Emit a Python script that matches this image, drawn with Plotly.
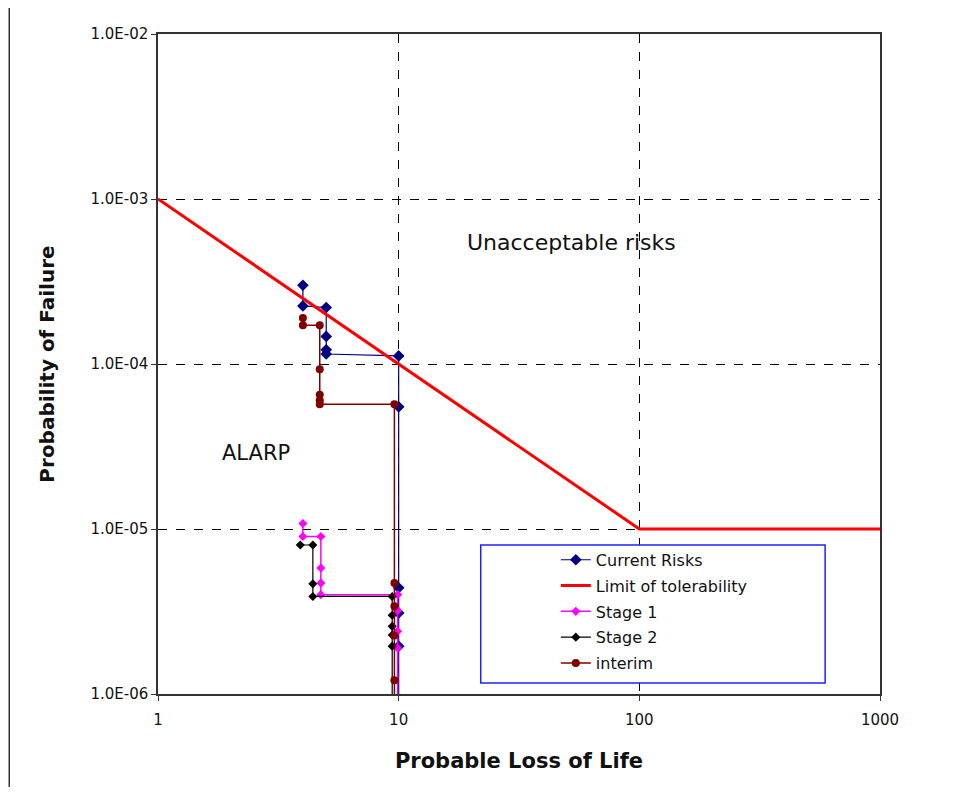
import plotly.graph_objects as go

# ---- data ----
current_x = [4, 4, 5, 5, 5, 5, 10, 10, 10, 10, 10, 10]
current_y = [3.0e-4, 2.25e-4, 2.2e-4, 1.47e-4, 1.22e-4, 1.15e-4, 1.12e-4, 5.5e-5, 4.4e-6, 3.1e-6, 1.95e-6, 5e-7]

limit_x = [1, 100, 1000]
limit_y = [1e-3, 1e-5, 1e-5]

stage1_x = [4, 4, 4.75, 4.75, 4.75, 4.75, 9.9, 9.9, 9.9, 9.9, 9.9]
stage1_y = [1.08e-5, 9.0e-6, 9.0e-6, 5.8e-6, 4.7e-6, 4.0e-6, 4.0e-6, 3.2e-6, 2.4e-6, 1.9e-6, 5e-7]

stage2_x = [3.9, 4.4, 4.4, 4.4, 9.4, 9.4, 9.4, 9.4, 9.4, 9.4]
stage2_y = [8.0e-6, 8.0e-6, 4.65e-6, 3.9e-6, 3.9e-6, 3.0e-6, 2.57e-6, 2.28e-6, 1.95e-6, 5e-7]

interim_x = [4, 4, 4.7, 4.7, 4.7, 4.7, 4.7, 9.6, 9.6, 9.6, 9.6, 9.6, 9.6]
interim_y = [1.9e-4, 1.72e-4, 1.72e-4, 9.3e-5, 6.5e-5, 6.0e-5, 5.7e-5, 5.7e-5, 4.7e-6, 3.4e-6, 2.26e-6, 1.21e-6, 5e-7]

x_tickvals = [1, 10, 100, 1000]
x_ticktext = ["1", "10", "100", "1000"]
y_tickvals = [1e-6, 1e-5, 1e-4, 1e-3, 1e-2]
y_ticktext = ["1.0E-06", "1.0E-05", "1.0E-04", "1.0E-03", "1.0E-02"]

FONT = "DejaVu Sans"

fig = go.Figure()
fig.add_trace(go.Scatter(x=current_x, y=current_y, name="Current Risks", legendgroup="a",
                         mode="lines+markers", line=dict(color="#000080", width=1.2),
                         marker=dict(symbol="diamond", size=9, color="#000080")))
fig.add_trace(go.Scatter(x=limit_x, y=limit_y, name="Limit of tolerability", legendgroup="b",
                         mode="lines", line=dict(color="#FF0000", width=3)))
fig.add_trace(go.Scatter(x=stage1_x, y=stage1_y, name="Stage 1", legendgroup="c",
                         mode="lines+markers", line=dict(color="#FF00FF", width=1.5),
                         marker=dict(symbol="diamond", size=7, color="#FF00FF")))
fig.add_trace(go.Scatter(x=stage2_x, y=stage2_y, name="Stage 2", legendgroup="d",
                         mode="lines+markers", line=dict(color="#000000", width=1.2),
                         marker=dict(symbol="diamond", size=7, color="#000000")))
fig.add_trace(go.Scatter(x=interim_x, y=interim_y, name="interim", legendgroup="e",
                         mode="lines+markers", line=dict(color="#800000", width=1.5),
                         marker=dict(symbol="circle", size=8, color="#800000")))

# legend frame and page edge line
fig.add_shape(type="rect", xref="paper", yref="paper", x0=0.447, x1=0.924, y0=0.0167, y1=0.2258,
              line=dict(color="#2020FF", width=1.5), fillcolor="white", layer="above")
fig.add_shape(type="line", xref="paper", yref="paper", x0=-0.206, x1=-0.206, y0=1.1, y1=-0.2,
              line=dict(color="#333333", width=1.5))

fig.add_annotation(text="Unacceptable risks", xref="paper", yref="paper", x=0.573, y=0.706,
                   showarrow=False, font=dict(family=FONT, size=22, color="#111111"))
fig.add_annotation(text="ALARP", xref="paper", yref="paper", x=0.086, y=0.365,
                   showarrow=False, font=dict(family=FONT, size=21, color="#111111"))

fig.update_layout(
    width=963, height=779,
    margin=dict(l=150, r=91, t=26, b=93),
    paper_bgcolor="white", plot_bgcolor="white",
    font=dict(family=FONT, color="#111111"),
    showlegend=True,
    legend=dict(x=0.551, y=0.229, xanchor="left", yanchor="top", bgcolor="rgba(0,0,0,0)",
                borderwidth=0, font=dict(family=FONT, size=16, color="#111111"),
                tracegroupgap=2),
    xaxis=dict(type="log", range=[0, 3], tickvals=x_tickvals, ticktext=x_ticktext,
               showgrid=True, gridcolor="#000000", griddash="dash", gridwidth=1,
               showline=True, mirror=True, linecolor="#333333", linewidth=1.5,
               ticks="outside", ticklen=5, tickcolor="#333333", zeroline=False,
               tickfont=dict(family=FONT, size=15), ticklabelstandoff=6,
               title=dict(text="<b>Probable Loss of Life</b>", font=dict(family=FONT, size=21), standoff=26)),
    yaxis=dict(type="log", range=[-6, -2], tickvals=y_tickvals, ticktext=y_ticktext,
               showgrid=True, gridcolor="#000000", griddash="dash", gridwidth=1,
               showline=True, mirror=True, linecolor="#333333", linewidth=1.5,
               ticks="outside", ticklen=5, tickcolor="#333333", zeroline=False,
               tickfont=dict(family=FONT, size=15),
               title=dict(text="<b>Probability of Failure</b>", font=dict(family=FONT, size=20), standoff=30)),
)

fig.write_html("out.html")
